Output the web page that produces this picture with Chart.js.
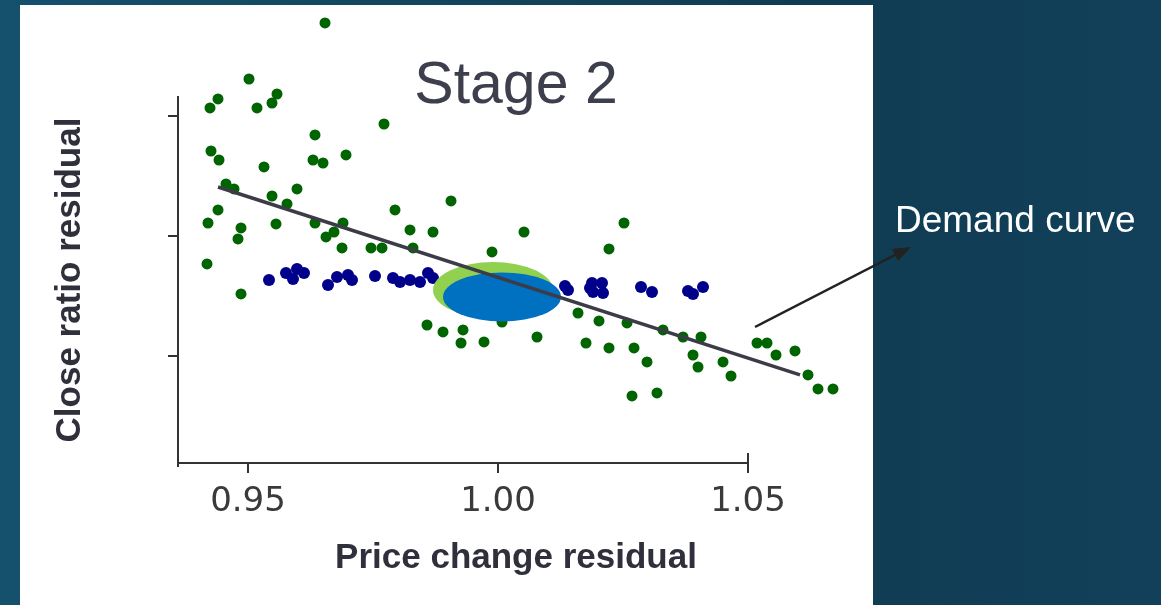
<!DOCTYPE html>
<html>
<head>
<meta charset="utf-8">
<script src="https://cdn.jsdelivr.net/npm/chart.js@4.4.1/dist/chart.umd.min.js"></script>
<style>
  html, body { margin: 0; padding: 0; }
  body {
    width: 1161px; height: 605px; overflow: hidden; position: relative;
    background: linear-gradient(90deg, #15506c 0%, #103c52 70%, #12405a 100%);
  }
  #panel { position: absolute; left: 20px; top: 5px; width: 853px; height: 600px; background: #fff; }
  #chart { position: absolute; left: 0; top: 0; }
  #note {
    position: absolute; left: 895px; top: 201px; color: #fff;
    font-family: "Liberation Sans", Arial, sans-serif; font-size: 37px; line-height: 37px;
  }
  #arrow { position: absolute; left: 0; top: 0; }
</style>
</head>
<body>
<div id="panel"></div>
<canvas id="chart" width="1161" height="605"></canvas>
<div id="note">Demand curve</div>
<svg id="arrow" width="1161" height="605">
  <line x1="755" y1="327" x2="897" y2="254" stroke="#222" stroke-width="2.5"/>
  <polygon points="911,247 898,261 892,249" fill="#222"/>
</svg>
<script>
// scatter data (x = price change residual, y = close ratio residual)
const greenX = [0.9654, 0.9502, 0.944, 0.9424, 0.9558, 0.9548, 0.9518, 0.9772, 0.9634, 0.9426,
  0.9442, 0.963, 0.965, 0.9696, 0.9532, 0.9456, 0.9472, 0.9598, 0.9548, 0.9578,
  0.944, 0.942, 0.9486, 0.948, 0.9556, 0.9634, 0.9656, 0.9672, 0.969, 0.9794,
  0.9824, 0.987, 0.9906, 1.0052, 0.9688, 0.9746, 0.9768, 0.983, 0.9418, 0.9486,
  1.0252, 0.9988, 1.0222, 0.9858, 0.989, 0.993, 0.9926, 0.9972, 1.0008, 1.0078,
  1.016, 1.0176, 1.0202, 1.0222, 1.0258, 1.0272, 1.0298, 1.0268, 1.0318, 1.033,
  1.037, 1.0406, 1.039, 1.04, 1.045, 1.0466, 1.0518, 1.0538, 1.0556, 1.0594,
  1.062, 1.064, 1.067];
const greenY = [1.1775, 1.1308, 1.1142, 1.1067, 1.1183, 1.1108, 1.1067, 1.0933, 1.0842, 1.0708,
  1.0633, 1.0633, 1.0608, 1.0675, 1.0575, 1.0433, 1.0392, 1.0392, 1.0333, 1.0267,
  1.0217, 1.0108, 1.0067, 0.9975, 1.01, 1.0108, 0.9992, 1.0033, 1.0108, 1.0217,
  1.005, 1.0033, 1.0292, 1.0033, 0.99, 0.99, 0.99, 0.99, 0.9767, 0.9517,
  1.0108, 0.9867, 0.9892, 0.9258, 0.92, 0.9217, 0.9108, 0.9117, 0.9283, 0.9158,
  0.9358, 0.9108, 0.9292, 0.9067, 0.9275, 0.9067, 0.895, 0.8667, 0.8692, 0.9217,
  0.9158, 0.9158, 0.9008, 0.8908, 0.895, 0.8833, 0.9108, 0.9108, 0.9008, 0.9042,
  0.8842, 0.8725, 0.8725];
const blueX = [0.9542, 0.9576, 0.9598, 0.9612, 0.959, 0.966, 0.9678, 0.97, 0.9708, 0.9754,
  0.979, 0.9804, 0.9824, 0.9844, 0.986, 0.987, 1.0134, 1.014, 1.0188, 1.0208,
  1.019, 1.021, 1.0184, 1.0286, 1.0308, 1.038, 1.039, 1.041];
const blueY = [0.9633, 0.9692, 0.9725, 0.9692, 0.9642, 0.9592, 0.9658, 0.9675, 0.9633, 0.9667,
  0.965, 0.9617, 0.9633, 0.9617, 0.9692, 0.965, 0.9583, 0.955, 0.9608, 0.9608,
  0.9533, 0.9525, 0.9567, 0.9575, 0.9533, 0.9542, 0.9517, 0.9575];
// demand curve end points
const fitX = [0.944, 1.0604];
const fitY = [1.0408, 0.8842];
// confidence ellipses: centre and half axes
const ellipseCenters = [[0.999, 0.955], [1.0008, 0.9492]];
const ellipseRadii = [[0.012, 0.0233], [0.0118, 0.0204]];
const ellipseColors = ['#92d050', '#0070c0'];
// axis ticks
const xTicks = [0.95, 1.00, 1.05];
const yTicks = [0.9, 1.0, 1.1];

const toPoints = (xs, ys) => xs.map((x, i) => ({ x: x, y: ys[i] }));

// some points sit above the axes in the original, let them draw there
const overflow = {
  id: 'overflow',
  beforeDatasetsDraw(chart) {
    this.savedTop = chart.chartArea.top;
    chart.chartArea.top = 0;
  },
  afterDatasetsDraw(chart) {
    chart.chartArea.top = this.savedTop;
  }
};

const ellipses = {
  id: 'ellipses',
  beforeDatasetDraw(chart, args) {
    if (args.index !== 0) return;
    const { ctx, scales: { x, y } } = chart;
    ctx.save();
    ellipseCenters.forEach((c, i) => {
      const cx = x.getPixelForValue(c[0]);
      const cy = y.getPixelForValue(c[1]);
      const rx = Math.abs(x.getPixelForValue(c[0] + ellipseRadii[i][0]) - cx);
      const ry = Math.abs(y.getPixelForValue(c[1] + ellipseRadii[i][1]) - cy);
      ctx.fillStyle = ellipseColors[i];
      ctx.beginPath();
      ctx.ellipse(cx, cy, rx, ry, 0, 0, Math.PI * 2);
      ctx.fill();
    });
    ctx.restore();
  }
};

// bottom spine stops at the last tick, like the trimmed matplotlib axis
const spine = {
  id: 'spine',
  afterDraw(chart) {
    const { ctx, scales: { x, y } } = chart;
    const x0 = x.getPixelForValue(x.min);
    const x1 = x.getPixelForValue(xTicks[xTicks.length - 1]);
    const yb = y.getPixelForValue(y.min);
    ctx.save();
    ctx.strokeStyle = '#333';
    ctx.lineWidth = 2;
    ctx.beginPath();
    ctx.moveTo(x0, yb);
    ctx.lineTo(x1, yb);
    ctx.moveTo(x1, yb - 10);
    ctx.lineTo(x1, yb);
    ctx.moveTo(x0, yb);
    ctx.lineTo(x0, yb + 4);
    ctx.stroke();
    ctx.restore();
  }
};

new Chart(document.getElementById('chart'), {
  type: 'scatter',
  data: {
    datasets: [
      {
        type: 'line',
        data: toPoints(fitX, fitY),
        borderColor: '#3c3c48',
        borderWidth: 3.5,
        pointRadius: 0,
        clip: false
      },
      {
        data: toPoints(blueX, blueY),
        backgroundColor: '#00008b',
        borderWidth: 0,
        pointRadius: 6,
        clip: false
      },
      {
        data: toPoints(greenX, greenY),
        backgroundColor: '#006400',
        borderWidth: 0,
        pointRadius: 5.5,
        clip: false
      }
    ]
  },
  options: {
    responsive: false,
    animation: false,
    layout: { padding: { left: 0, right: 307, top: 0, bottom: 0 } },
    plugins: {
      legend: { display: false },
      tooltip: { enabled: false },
      title: {
        display: true,
        text: 'Stage 2',
        fullSize: false,
        color: '#3d3f4c',
        font: { family: 'Liberation Sans', size: 59, weight: 'normal', lineHeight: 1 },
        padding: { top: 57, bottom: -19 }
      }
    },
    scales: {
      x: {
        type: 'linear',
        min: 0.936,
        max: 1.0712,
        afterBuildTicks: (axis) => { axis.ticks = xTicks.map(v => ({ value: v })); },
        afterFit: (axis) => { axis.height = 142; },
        border: { display: false },
        grid: { drawOnChartArea: false, drawTicks: true, tickLength: 10, color: '#333', lineWidth: 2 },
        ticks: {
          padding: 9,
          color: '#3a3a3a',
          font: { family: 'DejaVu Sans', size: 34 },
          callback: (v) => Number(v).toFixed(2)
        },
        title: {
          display: true,
          text: 'Price change residual',
          color: '#2f303b',
          font: { family: 'Liberation Sans', size: 35, weight: 'bold' },
          padding: { top: 0, bottom: 26 }
        }
      },
      y: {
        type: 'linear',
        min: 0.8108,
        max: 1.1158,
        afterBuildTicks: (axis) => { axis.ticks = yTicks.map(v => ({ value: v })); },
        afterFit: (axis) => { axis.width = 178; },
        border: { display: true, color: '#333', width: 2 },
        grid: { drawOnChartArea: false, drawTicks: true, tickLength: 10, color: '#333', lineWidth: 2 },
        ticks: { callback: () => '' },
        title: {
          display: true,
          text: 'Close ratio residual',
          color: '#2f303b',
          font: { family: 'Liberation Sans', size: 35, weight: 'bold' },
          padding: { top: 49, bottom: 0 }
        }
      }
    }
  },
  plugins: [overflow, ellipses, spine]
});
</script>
</body>
</html>
